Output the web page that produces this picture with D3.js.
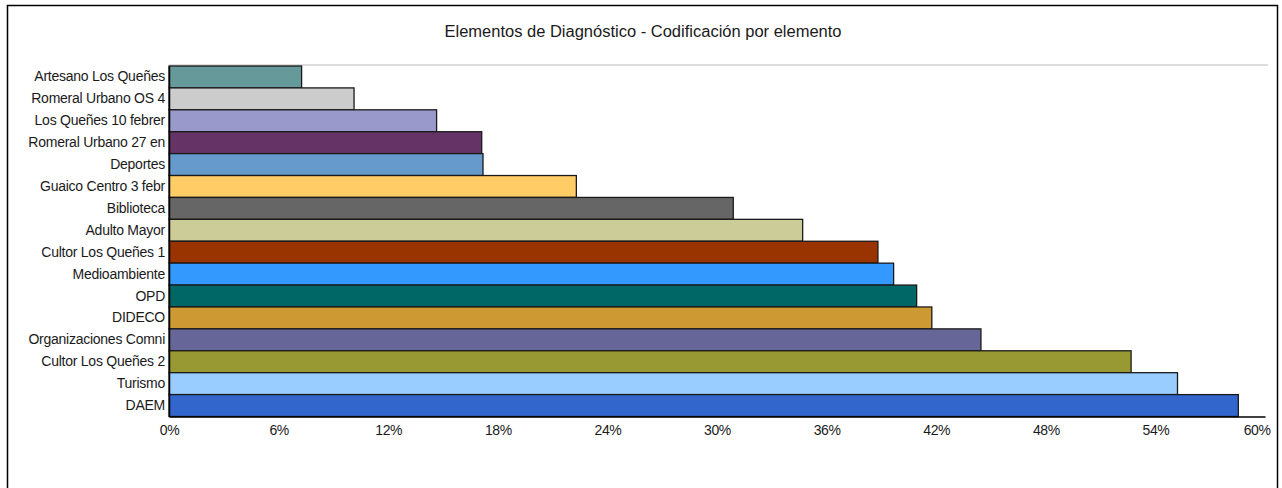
<!DOCTYPE html>
<html>
<head>
<meta charset="utf-8">
<script src="https://cdn.jsdelivr.net/npm/d3@7"></script>
<style>
  html, body { margin: 0; padding: 0; background: #fff; }
  svg { display: block; }
  text { font-family: "Liberation Sans", Arial, sans-serif; fill: #1a1a1a; }
</style>
</head>
<body>
<svg id="chart" width="1282" height="488"></svg>
<script>
// Categories, top to bottom
const categories = [
  "Artesano Los Queñes",
  "Romeral Urbano OS 4",
  "Los Queñes 10 febrer",
  "Romeral Urbano 27 en",
  "Deportes",
  "Guaico Centro 3 febr",
  "Biblioteca",
  "Adulto Mayor",
  "Cultor Los Queñes 1",
  "Medioambiente",
  "OPD",
  "DIDECO",
  "Organizaciones Comni",
  "Cultor Los Queñes 2",
  "Turismo",
  "DAEM"
];

// Share of coded elements per item (%)
const values = [7.26, 10.13, 14.65, 17.12, 17.19, 22.30, 30.89, 34.69,
                38.81, 39.67, 40.93, 41.76, 44.45, 52.67, 55.21, 58.54];

// Bar fills, same order as categories
const colors = ["#669999", "#cccccc", "#9999cc", "#663366", "#6699cc", "#ffcc66",
                "#666666", "#cccc99", "#993300", "#3399ff", "#006666", "#cc9933",
                "#666699", "#999933", "#99ccff", "#3366cc"];

// Axis ticks (%)
const tickValues = [0, 6, 12, 18, 24, 30, 36, 42, 48, 54, 60];

const titleText = "Elementos de Diagnóstico - Codificación por elemento";

const svg = d3.select("#chart");

// Outer frame
svg.append("rect")
  .attr("x", 7.5).attr("y", 5.5)
  .attr("width", 1270).attr("height", 500)
  .attr("fill", "#fff")
  .attr("stroke", "#000")
  .attr("stroke-width", 1.5);

// Title
svg.append("text")
  .attr("x", 643).attr("y", 37)
  .attr("text-anchor", "middle")
  .attr("font-size", 16)
  .attr("textLength", 397)
  .attr("lengthAdjust", "spacingAndGlyphs")
  .text(titleText);

const plot = { left: 169, right: 1265, top: 66, bottom: 416.5 };

// Light rule along the top of the plot area
svg.append("line")
  .attr("x1", plot.left).attr("x2", 1268)
  .attr("y1", plot.top - 1).attr("y2", plot.top - 1)
  .attr("stroke", "#dddddd")
  .attr("stroke-width", 2);

const x = d3.scaleLinear().domain([0, 60]).range([plot.left, plot.right]);
const y = d3.scaleBand().domain(categories).range([plot.top, plot.bottom]).padding(0);

// Bars
svg.append("g")
  .selectAll("rect")
  .data(categories)
  .join("rect")
  .attr("x", x(0))
  .attr("y", d => y(d))
  .attr("width", (d, i) => x(values[i]) - x(0))
  .attr("height", y.bandwidth())
  .attr("fill", (d, i) => colors[i])
  .attr("stroke", "#1a1a1a")
  .attr("stroke-width", 1.3);

// Category axis
const yAxis = svg.append("g")
  .attr("transform", `translate(${plot.left},0)`)
  .call(d3.axisLeft(y).tickSize(0).tickPadding(4));
yAxis.select(".domain").attr("stroke", "#000").attr("stroke-width", 1.5);
yAxis.selectAll("text")
  .attr("font-size", 14)
  .attr("letter-spacing", -0.25)
  .attr("font-family", "'Liberation Sans', Arial, sans-serif")
  .attr("fill", "#1a1a1a");

// Value axis
const xAxis = svg.append("g")
  .attr("transform", `translate(0,${plot.bottom})`)
  .call(d3.axisBottom(x).tickValues(tickValues).tickSize(0).tickPadding(9)
    .tickFormat(d => d + "%"));
xAxis.select(".domain").attr("stroke", "#000").attr("stroke-width", 1.5);
xAxis.selectAll("text")
  .attr("font-size", 14)
  .attr("letter-spacing", -0.4)
  .attr("font-family", "'Liberation Sans', Arial, sans-serif")
  .attr("fill", "#1a1a1a");
// Last tick label kept inside the frame
xAxis.selectAll(".tick")
  .filter(d => d === 60)
  .select("text")
  .attr("text-anchor", "end")
  .attr("dx", 5);
</script>
</body>
</html>
